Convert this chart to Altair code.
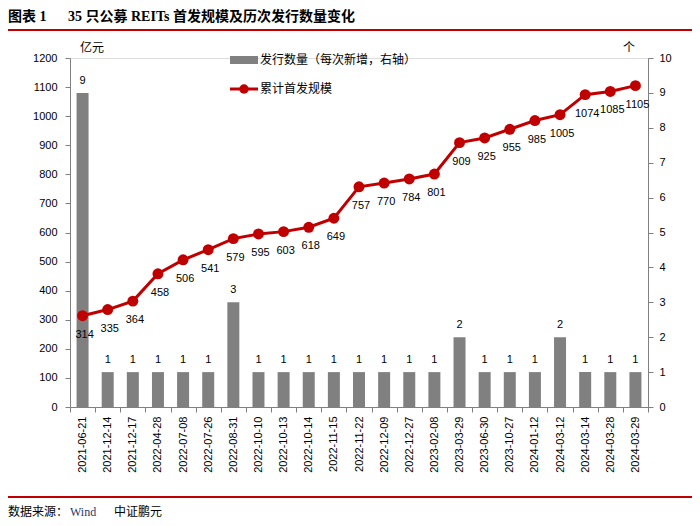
import altair as alt
import pandas as pd

dates = ["2021-06-21", "2021-12-14", "2021-12-17", "2022-04-28", "2022-07-08", "2022-07-26",
         "2022-08-31", "2022-10-10", "2022-10-13", "2022-10-14", "2022-11-15", "2022-11-22",
         "2022-12-09", "2022-12-27", "2023-02-08", "2023-03-29", "2023-06-30", "2023-10-27",
         "2024-01-12", "2024-03-12", "2024-03-14", "2024-03-28", "2024-03-29"]
scale_values = [314, 335, 364, 458, 506, 541, 579, 595, 603, 618, 649, 757, 770, 784, 801,
                909, 925, 955, 985, 1005, 1074, 1085, 1105]
counts = [9, 1, 1, 1, 1, 1, 3, 1, 1, 1, 1, 1, 1, 1, 1, 2, 1, 1, 1, 2, 1, 1, 1]
left_ticks = [0, 100, 200, 300, 400, 500, 600, 700, 800, 900, 1000, 1100, 1200]
right_ticks = [0, 1, 2, 3, 4, 5, 6, 7, 8, 9, 10]

df = pd.DataFrame({"date": dates, "scale": scale_values, "count": counts})

CJK = "Noto Sans CJK SC"
NUM = "Liberation Sans"
RED = "#C00000"
GRAY = "#808080"

x_enc = alt.X("date:N", sort=dates, title=None,
              scale=alt.Scale(paddingInner=0, paddingOuter=0),
              axis=alt.Axis(labelAngle=270, labelFont=NUM, labelFontSize=11, labelColor="black",
                            tickBand="extent", tickColor=GRAY, domainColor=GRAY, tickSize=5,
                            labelPadding=4, labelOverlap=False))

base = alt.Chart(df).encode(x=x_enc)

right_axis = alt.Axis(orient="right", values=right_ticks, tickCount=11, labelFont=NUM,
                      labelFontSize=11, labelColor="black", grid=False, format="d",
                      labelOverlap=False, labelPadding=6,
                      domainColor=GRAY, tickColor=GRAY, tickSize=5)
left_axis = alt.Axis(orient="left", values=left_ticks, tickCount=13, labelFont=NUM,
                     labelFontSize=11, labelColor="black", grid=False, format="d",
                     labelOverlap=False, labelPadding=8,
                     domainColor=GRAY, tickColor=GRAY, tickSize=5)

def y_right():
    return alt.Y("count:Q", title=None, scale=alt.Scale(domain=[0, 10], nice=False),
                 axis=right_axis)

def y_left():
    return alt.Y("scale:Q", title=None, scale=alt.Scale(domain=[0, 1200], nice=False),
                 axis=left_axis)

bars = base.mark_bar(color=GRAY, size=12).encode(y=y_right())
bar_text = base.mark_text(dy=-12, font=NUM, fontSize=11, color="black").encode(
    y=y_right(), text="count:Q")
bar_layer = alt.layer(bars, bar_text)

line = base.mark_line(color=RED, strokeWidth=3).encode(y=y_left())
pts = base.mark_point(color=RED, filled=True, opacity=1, size=120).encode(y=y_left())
line_text = base.mark_text(dy=19, dx=2, font=NUM, fontSize=11, color="black").encode(
    y=y_left(), text="scale:Q")
line_layer = alt.layer(line, pts, line_text)

main = alt.layer(bar_layer, line_layer).resolve_scale(y="independent")

ann = alt.Chart(pd.DataFrame({"k": [0]}))

def txt(s, x, y, size=12, font=CJK, weight="normal", color="black", align="left", baseline="middle"):
    return ann.mark_text(text=s, font=font, fontSize=size, fontWeight=weight, color=color,
                         align=align, baseline=baseline).encode(x=alt.value(x), y=alt.value(y))

def hrule(x1, x2, y, color, width):
    return ann.mark_rule(color=color, strokeWidth=width).encode(
        x=alt.value(x1), x2=alt.value(x2), y=alt.value(y))

title1 = txt("图表 1", -62, -48, size=14, font="Liberation Serif, " + CJK, weight="bold",
             baseline="top")
title2 = txt("35 只公募 REITs 首发规模及历次发行数量变化", -2, -48, size=14,
             font="Liberation Serif, " + CJK, weight="bold", baseline="top")
top_rule = hrule(-62, 622, -28, RED, 2)
bottom_rule = hrule(-62, 622, 439, RED, 2)
src1 = txt("数据来源：", -62, 454, size=12)
src2 = txt("Wind", 0, 454, size=12, font="Liberation Serif", color="#1F3864")
src3 = txt("中证鹏元", 44, 454, size=12)

unit_left = txt("亿元", 22, -10, size=12, align="center")
unit_right = txt("个", 559, -10, size=12, align="center")

leg_rect = ann.mark_rect(color=GRAY).encode(x=alt.value(160), x2=alt.value(188),
                                             y=alt.value(-2), y2=alt.value(6))
leg_text1 = txt("发行数量（每次新增，右轴）", 190, 2, size=12)
leg_line = hrule(160, 188, 31, RED, 3)
leg_pt = ann.mark_point(color=RED, filled=True, opacity=1, size=90).encode(
    x=alt.value(174), y=alt.value(31))
leg_text2 = txt("累计首发规模", 190, 31, size=12)

chart = alt.layer(
    main, title1, title2, top_rule, bottom_rule, src1, src2, src3,
    unit_left, unit_right, leg_rect, leg_text1, leg_line, leg_pt, leg_text2
).properties(
    width=578, height=349,
    autosize=alt.AutoSizeParams(type="none"),
    padding={"left": 62, "top": 50, "right": 44, "bottom": 111},
).configure_view(stroke=None).configure(background="white")

chart.save("out.html", embed_options={"renderer": "svg", "actions": False})
